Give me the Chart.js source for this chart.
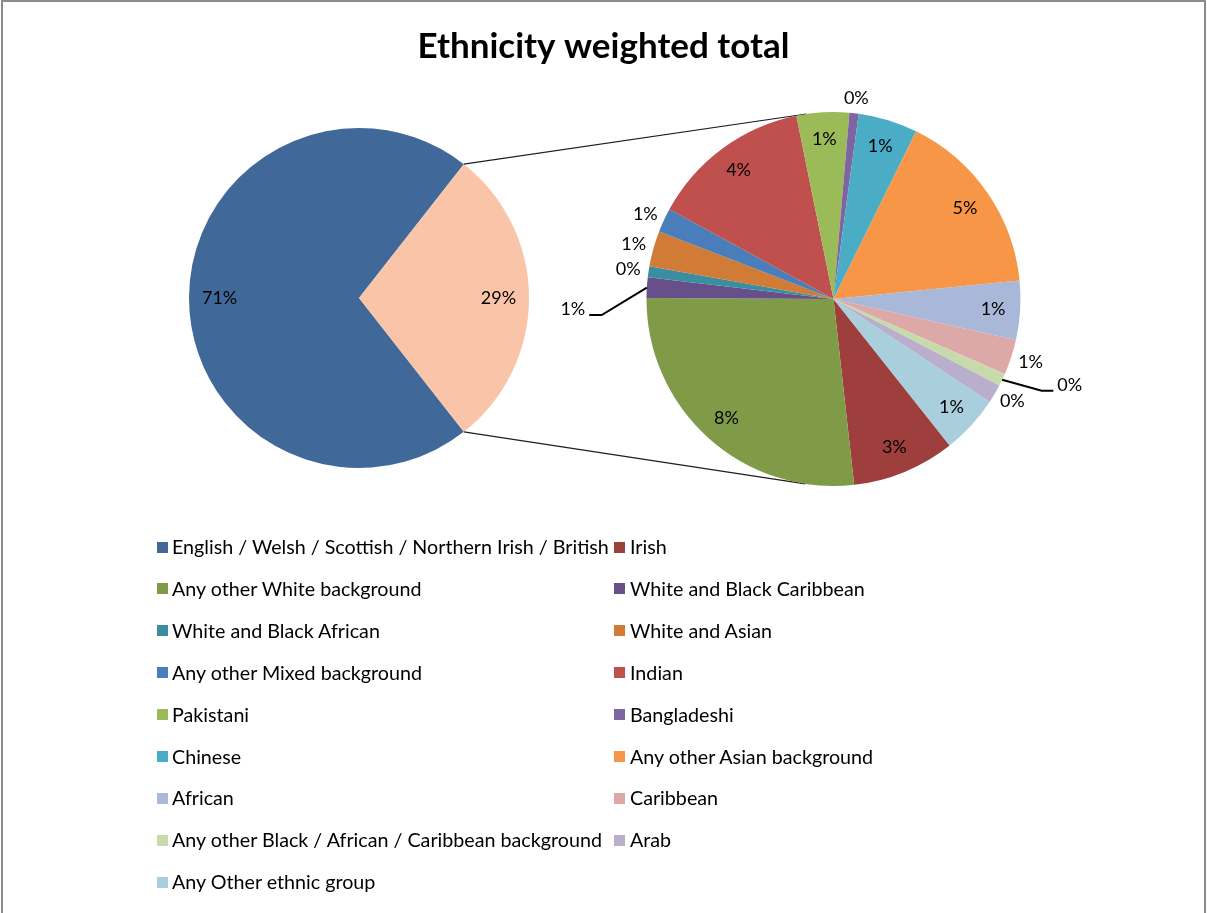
<!DOCTYPE html>
<html>
<head>
<meta charset="utf-8">
<script src="https://cdn.jsdelivr.net/npm/chart.js@4.4.1/dist/chart.umd.min.js"></script>
<style>
  html, body { margin: 0; padding: 0; background: #fff; overflow: hidden; width: 1207px; height: 913px; }
  #frame { position: absolute; left: 1px; top: 0; width: 1201px; height: 940px; border: 2px solid #8c8c8c; }
  canvas { position: absolute; left: 0; top: 0; }
  #legend { position: absolute; left: 0; top: 0; width: 1207px; height: 913px; font-family: Lato, "Open Sans", sans-serif; font-size: 19.7px; color: #000; }
  .lg-box { position: absolute; width: 11px; height: 11px; box-sizing: border-box; }
  .lg-text { position: absolute; white-space: nowrap; line-height: 22px; height: 22px; }
</style>
</head>
<body>
<div id="frame"></div>
<canvas id="mainPie" width="1207" height="913"></canvas>
<canvas id="subPie" width="1207" height="913"></canvas>
<div id="legend"></div>
<script>
// ---------------- DATA ----------------
const chartTitle = 'Ethnicity weighted total';
const mainLabel = 'English / Welsh / Scottish / Northern Irish / British';
const mainValue = 71.14;
const otherLabel = 'Other';
const subLabels = [
  'Irish',
  'Any other White background',
  'White and Black Caribbean',
  'White and Black African',
  'White and Asian',
  'Any other Mixed background',
  'Indian',
  'Pakistani',
  'Bangladeshi',
  'Chinese',
  'Any other Asian background',
  'African',
  'Caribbean',
  'Any other Black / African / Caribbean background',
  'Arab',
  'Any Other ethnic group'
];
const subValues = [2.57, 7.75, 0.51, 0.27, 0.89, 0.60, 4.00, 1.31, 0.23, 1.48, 4.66, 1.47, 0.88, 0.31, 0.47, 1.46];

// ---------------- STYLE ----------------
const mainColors = ['#406899', '#F9C4A8'];
const subColors = ['#9E3F3D', '#7F9B48', '#67508A', '#3B8EA2', '#D07B36', '#4A7EBB', '#C0504D', '#9BBB59',
                   '#8064A2', '#4BACC6', '#F79646', '#A9B8D8', '#DDA9A8', '#C7DAAA', '#B9AFCC', '#A9CEDC'];
const FONT = 'Lato';
const W = 1207, H = 913;
const LEFT_CX = 359, LEFT_CY = 298, LEFT_R = 170;
const RIGHT_CX = 833.5, RIGHT_CY = 299, RIGHT_R = 187;
const TITLE_SIZE = 35, TITLE_PAD_TOP = 26;
const SUB_START_DEG = 51.6;

Chart.defaults.font.family = FONT;

const otherTotal = subValues.reduce((a, b) => a + b, 0);
const grandTotal = mainValue + otherTotal;
const otherDeg = otherTotal / grandTotal * 360;

// spacer box on the right so the left pie sits at LEFT_CX while the title stays centred on the page
const spacerPlugin = {
  id: 'spacer',
  beforeInit(chart) {
    const size = W - 2 * LEFT_CX;
    Chart.layouts.addBox(chart, {
      position: 'right', weight: 0, fullSize: false, options: {},
      width: 0, height: 0, left: 0, top: 0, right: 0, bottom: 0,
      isHorizontal() { return false; },
      update(maxWidth, maxHeight) { this.width = Math.min(size, maxWidth); this.height = maxHeight; },
      draw() {}
    });
  }
};

// percentage labels
const labelPlugin = {
  id: 'pieLabels',
  afterDatasetsDraw(chart, args, opts) {
    const ctx = chart.ctx;
    const meta = chart.getDatasetMeta(0);
    const data = chart.data.datasets[0].data;
    ctx.save();
    ctx.font = opts.size + 'px ' + FONT;
    ctx.fillStyle = '#000';
    ctx.strokeStyle = '#000';
    ctx.textBaseline = 'middle';
    meta.data.forEach((arc, i) => {
      const x = arc.x, y = arc.y, R = arc.outerRadius;
      const mid = (arc.startAngle + arc.endAngle) / 2;
      const spanDeg = (arc.endAngle - arc.startAngle) * 180 / Math.PI;
      const ux = Math.cos(mid), uy = Math.sin(mid);
      const txt = Math.round(data[i] / opts.total * 100) + '%';
      const w = ctx.measureText(txt).width, h = opts.size * 0.8;
      const leader = opts.leaders && opts.leaders[chart.data.labels[i]];
      if (leader) {
        const a = leader.angle * Math.PI / 180;
        const ex = x + leader.r * Math.cos(a), ey = y + leader.r * Math.sin(a);
        const side = Math.cos(a) >= 0 ? 1 : -1;
        const tx = ex + side * leader.tail;
        ctx.beginPath();
        ctx.moveTo(x + R * ux, y + R * uy);
        ctx.lineTo(ex, ey);
        ctx.lineTo(tx, ey);
        ctx.lineWidth = 2;
        ctx.stroke();
        ctx.textAlign = side > 0 ? 'left' : 'right';
        ctx.fillText(txt, tx + side * 4, ey - 6);
      } else if (spanDeg >= opts.minInsideDeg) {
        const r = R * opts.inside;
        ctx.textAlign = 'center';
        ctx.fillText(txt, x + r * ux, y + r * uy);
      } else {
        const g = opts.gap;
        ctx.textAlign = 'center';
        ctx.fillText(txt, x + (R + g) * ux + ux * w / 2, y + (R + g) * uy + uy * h / 2);
      }
    });
    ctx.restore();
  }
};

const titleBoxH = TITLE_PAD_TOP + TITLE_SIZE * 1.2;
const chartA = new Chart(document.getElementById('mainPie'), {
  type: 'pie',
  data: {
    labels: [mainLabel, otherLabel],
    datasets: [{
      data: [mainValue, otherTotal],
      backgroundColor: mainColors,
      borderWidth: 0, hoverOffset: 0,
      rotation: 90 + otherDeg / 2,
      radius: LEFT_R
    }]
  },
  options: {
    responsive: false, animation: false, events: [],
    rotation: 90 + otherDeg / 2,
    radius: LEFT_R,
    layout: { padding: { top: 0, left: 0, right: 0, bottom: H - (2 * LEFT_CY - titleBoxH) } },
    plugins: {
      legend: { display: false },
      tooltip: { enabled: false },
      title: {
        display: true, text: chartTitle, color: '#000',
        font: { family: FONT, size: TITLE_SIZE, weight: 'bold' },
        padding: { top: TITLE_PAD_TOP, bottom: 0 }
      },
      pieLabels: { size: 18, total: grandTotal, inside: 0.82, minInsideDeg: 15, gap: 8 }
    }
  },
  plugins: [spacerPlugin, labelPlugin]
});

// connector lines from the "Other" slice to the secondary pie (tangents)
const connectorPlugin = {
  id: 'connectors',
  beforeDatasetsDraw(chart) {
    const src = chartA.getDatasetMeta(0).data[1];
    const dst = chart.getDatasetMeta(0).data[0];
    if (!src || !dst) return;
    const cx = dst.x, cy = dst.y, R = dst.outerRadius;
    const ctx = chart.ctx;
    ctx.save();
    ctx.strokeStyle = '#1e1e1e';
    ctx.lineWidth = 1.2;
    [src.startAngle, src.endAngle].forEach(a => {
      const px = src.x + src.outerRadius * Math.cos(a), py = src.y + src.outerRadius * Math.sin(a);
      const dx = px - cx, dy = py - cy, d = Math.hypot(dx, dy);
      const base = Math.atan2(dy, dx), alpha = Math.acos(R / d);
      const t1 = { x: cx + R * Math.cos(base + alpha), y: cy + R * Math.sin(base + alpha) };
      const t2 = { x: cx + R * Math.cos(base - alpha), y: cy + R * Math.sin(base - alpha) };
      const t = (py < cy) ? (t1.y < t2.y ? t1 : t2) : (t1.y > t2.y ? t1 : t2);
      ctx.beginPath();
      ctx.moveTo(px, py);
      ctx.lineTo(t.x, t.y);
      ctx.stroke();
    });
    ctx.restore();
  }
};

const padL = 2 * RIGHT_CX - W + 80;
const chartB = new Chart(document.getElementById('subPie'), {
  type: 'pie',
  data: {
    labels: subLabels,
    datasets: [{
      data: subValues,
      backgroundColor: subColors,
      borderWidth: 0, hoverOffset: 0,
      rotation: 90 + SUB_START_DEG,
      radius: RIGHT_R
    }]
  },
  options: {
    responsive: false, animation: false, events: [],
    rotation: 90 + SUB_START_DEG,
    radius: RIGHT_R,
    layout: { padding: { left: padL, right: 80, top: 50, bottom: H - (2 * RIGHT_CY - 50) } },
    plugins: {
      legend: { display: false },
      tooltip: { enabled: false },
      title: { display: false },
      pieLabels: {
        size: 18, total: grandTotal, inside: 0.855, minInsideDeg: 15, gap: 8,
        leaders: {
          'White and Black Caribbean': { angle: 176.05, r: 232.4, tail: 12.4 },
          'Any other Black / African / Caribbean background': { angle: 23.77, r: 227.5, tail: 11.6 }
        }
      }
    }
  },
  plugins: [connectorPlugin, labelPlugin]
});

// legend (two columns, built from the data arrays)
const legendItems = [{ label: mainLabel, color: mainColors[0] }]
  .concat(subLabels.map((l, i) => ({ label: l, color: subColors[i] })));
const legendEl = document.getElementById('legend');
const LG_ROW0 = 547, LG_ROW_STEP = 41.9;
const LG_COLS = [{ box: 157, text: 172 }, { box: 614, text: 630 }];
legendItems.forEach((it, i) => {
  const row = Math.floor(i / 2), col = LG_COLS[i % 2];
  const yc = LG_ROW0 + row * LG_ROW_STEP;
  const b = document.createElement('div');
  b.className = 'lg-box';
  b.style.left = col.box + 'px';
  b.style.top = (yc - 5.5) + 'px';
  b.style.background = it.color;
  legendEl.appendChild(b);
  const t = document.createElement('div');
  t.className = 'lg-text';
  t.style.left = col.text + 'px';
  t.style.top = (yc - 11) + 'px';
  t.textContent = it.label;
  legendEl.appendChild(t);
});
</script>
</body>
</html>
